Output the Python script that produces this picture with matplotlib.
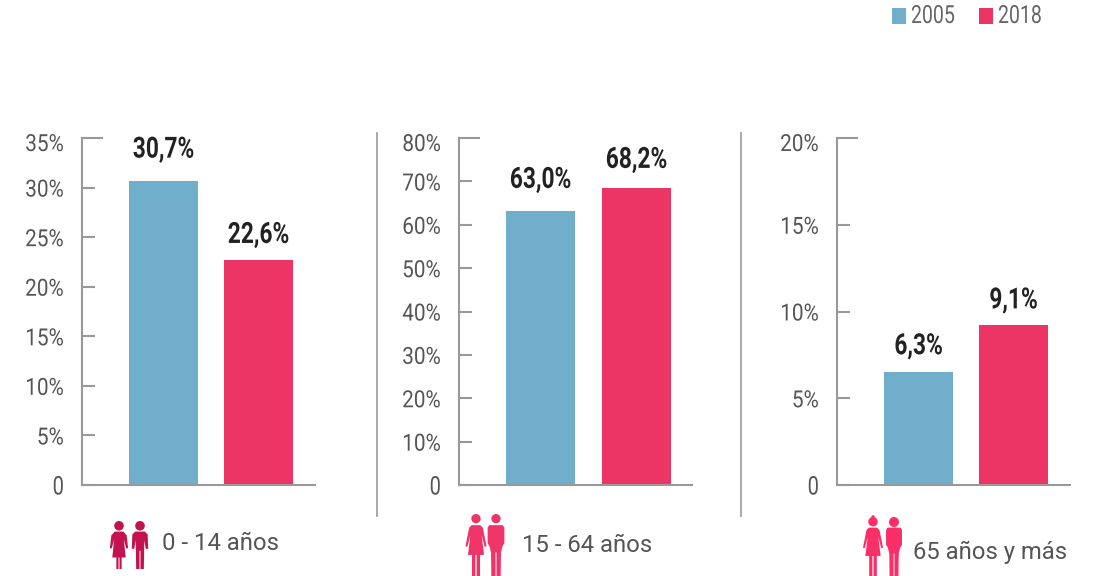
import matplotlib
matplotlib.use('Agg')
import matplotlib.pyplot as plt
from matplotlib.patches import Circle, Polygon, Rectangle
from matplotlib.patheffects import AbstractPathEffect
from matplotlib.transforms import Affine2D, ScaledTranslation

plt.rcParams['font.family'] = ['Roboto', 'DejaVu Sans']

W, H = 1094, 576
BLUE = '#70AECB'
RED = '#EC3564'
GREY = '#999999'
TXT = '#555555'

# datos
years = ['2005', '2018']
grupos = ['0 - 14 años', '15 - 64 años', '65 años y más']
v_jovenes = [30.7, 22.7]
v_adultos = [63.2, 68.5]
v_mayores = [6.5, 9.2]
etq_jovenes = ['30,7%', '22,6%']
etq_adultos = ['63,0%', '68,2%']
etq_mayores = ['6,3%', '9,1%']
ticks_jovenes = [0, 5, 10, 15, 20, 25, 30, 35]
ticks_adultos = [0, 10, 20, 30, 40, 50, 60, 70, 80]
ticks_mayores = [0, 5, 10, 15, 20]

fig = plt.figure(figsize=(W / 100, H / 100), dpi=100)


class Squeeze(AbstractPathEffect):
    # texto condensado: no hay Roboto Condensed instalada
    def __init__(self, cx, sx):
        super().__init__()
        self.cx = cx
        self.sx = sx

    def draw_path(self, renderer, gc, tpath, affine, rgbFace=None):
        t = affine + Affine2D().translate(-self.cx, 0).scale(self.sx, 1).translate(self.cx, 0)
        renderer.draw_path(gc, tpath, t, rgbFace)


def px_axes(left, right, top, bottom):
    return fig.add_axes([left / W, 1 - bottom / H, (right - left) / W, (bottom - top) / H])


def panel(left, right, bars_x, vals, etqs, gaps, ticks):
    ax = px_axes(left, right, 138, 485)
    ax.set_xlim(left, right)
    ax.set_ylim(0, ticks[-1])
    ax.patch.set_alpha(0)
    ax.bar(bars_x, vals, width=69, align='edge', color=[BLUE, RED])
    for x, v, e, g in zip(bars_x, vals, etqs, gaps):
        ax.annotate(e, (x + 34.5, v), xytext=(0, g * 0.72), textcoords='offset points', ha='center',
                    va='center', fontsize=21, fontweight='bold', color='#222222',
                    path_effects=[Squeeze(x + 34.5, 0.78)])
    for s in ['top', 'right']:
        ax.spines[s].set_visible(False)
    for s in ['left', 'bottom']:
        ax.spines[s].set_color(GREY)
        ax.spines[s].set_linewidth(1.5)
    ax.set_xticks([])
    ax.set_yticks(ticks)
    ax.set_yticklabels(['0' if t == 0 else '%d%%' % t for t in ticks], fontsize=17, color=TXT)
    ax.tick_params(axis='y', direction='in', length=9.4, width=1.5, color=GREY, pad=13)
    ax.yaxis.get_major_ticks()[-1].tick1line.set_markersize(15)
    labels = ax.get_yticklabels()
    for lb in labels:
        lb.set_path_effects([Squeeze(left - 18, 0.88)])
    labels[0].set_fontsize(18.5)
    labels[0].set_path_effects([Squeeze(left - 18, 0.78)])
    labels[-1].set_transform(labels[-1].get_transform() + ScaledTranslation(0, -4 / 100, fig.dpi_scale_trans))
    return ax


panel(82, 315, [129, 224], v_jovenes, etq_jovenes, [31, 25], ticks_jovenes)
panel(459, 692, [506, 602], v_adultos, etq_adultos, [31, 28], ticks_adultos)
panel(837, 1070, [884, 979], v_mayores, etq_mayores, [26, 25], ticks_mayores)

# capa en pixeles para iconos, leyenda y separadores
ov = fig.add_axes([0, 0, 1, 1], zorder=-1)
ov.set_xlim(0, W)
ov.set_ylim(H, 0)
ov.axis('off')

ov.plot([377, 377], [133, 516], color=GREY, lw=1.2)
ov.plot([741, 741], [133, 516], color=GREY, lw=1.2)

# leyenda
for x, y, c in zip([892, 979], years, [BLUE, RED]):
    ov.add_patch(Rectangle((x, 8), 14, 16, color=c, lw=0))
    ov.text(x + 19, 16, y, fontsize=18, color='#666666', va='center', path_effects=[Squeeze(x + 19, 0.78)])

NINA = [(-.09, .22), (.09, .22), (.16, .30), (.19, .57), (.15, .57), (.10, .38), (.14, .76), (.055, .76), (.055, 1),
        (.01, 1), (.01, .76), (-.01, .76), (-.01, 1), (-.055, 1), (-.055, .76), (-.14, .76), (-.10, .38),
        (-.15, .57), (-.19, .57), (-.16, .30)]
NINO = [(-.1, .22), (.1, .22), (.16, .28), (.17, .58), (.12, .58), (.09, .40), (.08, 1), (.01, 1), (.01, .62),
        (-.01, .62), (-.01, 1), (-.08, 1), (-.09, .40), (-.12, .58), (-.17, .58), (-.16, .28)]
MUJER = [(-.07, .18), (.07, .18), (.11, .22), (.17, .52), (.14, .53), (.09, .34), (.13, .66), (.065, .66), (.065, 1),
         (.01, 1), (.01, .66), (-.01, .66), (-.01, 1), (-.065, 1), (-.065, .66), (-.13, .66), (-.09, .34),
         (-.14, .53), (-.17, .52), (-.11, .22)]
HOMBRE = [(-.11, .18), (.11, .18), (.135, .22), (.135, .47), (.105, .52), (.08, .62), (.075, 1), (.008, 1),
          (.008, .62), (-.008, .62), (-.008, 1), (-.075, 1), (-.08, .62), (-.105, .52), (-.135, .47), (-.135, .22)]


def persona(cx, top, h, forma, color, r=.1, moño=False):
    ov.add_patch(Circle((cx, top + r * h), r * h, color=color, lw=0))
    if moño:
        ov.add_patch(Circle((cx, top), .03 * h, color=color, lw=0))
    ov.add_patch(Polygon([(cx + a * h, top + b * h) for a, b in forma], closed=True, color=color, lw=0))


persona(119, 521, 48, NINA, '#C2124F')
persona(140, 521, 48, NINO, '#C2124F')
persona(476, 514, 62, MUJER, '#EF3468', r=.075)
persona(496, 514, 62, HOMBRE, '#EF3468', r=.075)
persona(873, 517, 59, MUJER, '#FB2F68', r=.08, moño=True)
persona(894, 517, 59, HOMBRE, '#FB2F68', r=.085)

for x, y, g in zip([162, 522, 913], [544, 546, 552], grupos):
    ov.text(x, y, g, fontsize=17.2, color=TXT, va='center')

fig.savefig('out.png', dpi=100)
